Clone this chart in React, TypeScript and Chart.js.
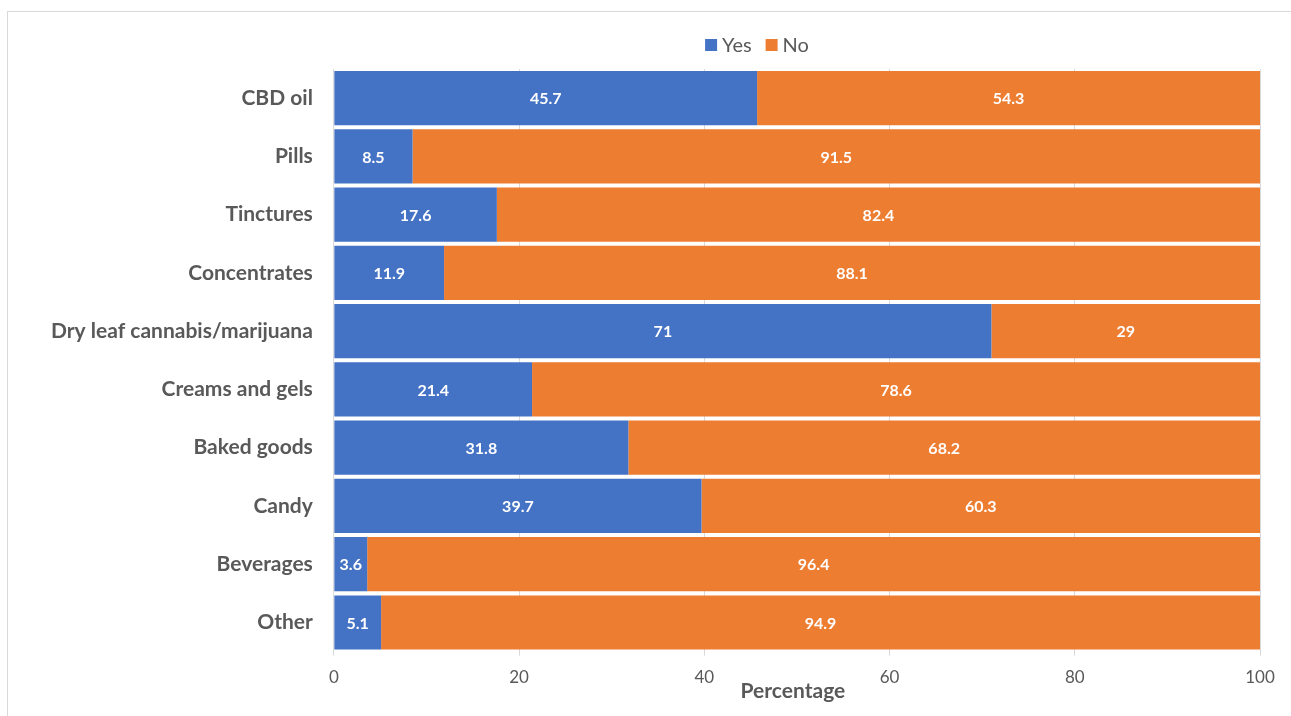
import React, { useEffect, useRef } from "react";
import { Chart, registerables } from "chart.js";

Chart.register(...registerables);

const categories = [
  "CBD oil",
  "Pills",
  "Tinctures",
  "Concentrates",
  "Dry leaf cannabis/marijuana",
  "Creams and gels",
  "Baked goods",
  "Candy",
  "Beverages",
  "Other",
];
const yesValues = [45.7, 8.5, 17.6, 11.9, 71, 21.4, 31.8, 39.7, 3.6, 5.1];
const noValues = [54.3, 91.5, 82.4, 88.1, 29, 78.6, 68.2, 60.3, 96.4, 94.9];
const seriesNames = ["Yes", "No"];
const seriesColors = ["#4472C4", "#ED7D31"];
const xTicks = [0, 20, 40, 60, 80, 100];
const xTitle = "Percentage";

const FONT = "Lato, 'Open Sans', sans-serif";
const TEXT = "#595959";

const dataLabels = {
  id: "dataLabels",
  afterDatasetsDraw(chart: any) {
    const ctx = chart.ctx;
    ctx.save();
    ctx.font = `bold 16px ${FONT}`;
    ctx.fillStyle = "#ffffff";
    ctx.textAlign = "center";
    ctx.textBaseline = "middle";
    chart.data.datasets.forEach((ds: any, di: number) => {
      const meta = chart.getDatasetMeta(di);
      meta.data.forEach((bar: any, i: number) => {
        const p = bar.getProps(["x", "y", "base"], true);
        const cx = (p.x + p.base) / 2;
        ctx.fillText(String(ds.data[i]), cx, p.y + 1);
      });
    });
    ctx.restore();
  },
};

const customLegendAndTitle = {
  id: "customLegendAndTitle",
  afterDraw(chart: any) {
    const ctx = chart.ctx;
    const area = chart.chartArea;
    ctx.save();
    // legend
    ctx.font = `20px ${FONT}`;
    ctx.textBaseline = "middle";
    ctx.textAlign = "left";
    const box = 12;
    const gapBoxText = 5;
    const gapItems = 14;
    const widths = seriesNames.map((n) => box + gapBoxText + ctx.measureText(n).width);
    const total = widths.reduce((a, b) => a + b, 0) + gapItems * (seriesNames.length - 1);
    let x = 757 - total / 2;
    const y = 45;
    seriesNames.forEach((n, i) => {
      ctx.fillStyle = seriesColors[i];
      ctx.fillRect(x, y - box / 2, box, box);
      ctx.fillStyle = TEXT;
      ctx.fillText(n, x + box + gapBoxText, y + 1);
      x += widths[i] + gapItems;
    });
    // x-axis title
    ctx.font = `bold 21px ${FONT}`;
    ctx.textAlign = "center";
    ctx.fillStyle = TEXT;
    ctx.fillText(xTitle, (area.left + area.right) / 2 - 4, area.bottom + 40);
    ctx.restore();
  },
};

export default function App() {
  const ref = useRef<HTMLCanvasElement>(null);
  useEffect(() => {
    if (!ref.current) return;
    const chart = new Chart(ref.current, {
      type: "bar",
      data: {
        labels: categories,
        datasets: [
          {
            label: seriesNames[0],
            data: yesValues,
            backgroundColor: seriesColors[0],
            barPercentage: 0.93,
            categoryPercentage: 1,
          },
          {
            label: seriesNames[1],
            data: noValues,
            backgroundColor: seriesColors[1],
            barPercentage: 0.93,
            categoryPercentage: 1,
          },
        ],
      },
      options: {
        indexAxis: "y",
        responsive: false,
        animation: false,
        layout: { padding: { top: 69, right: 31, bottom: 16, left: 38 } },
        plugins: {
          legend: { display: false },
          tooltip: { enabled: false },
        },
        scales: {
          x: {
            stacked: true,
            min: 0,
            max: 100,
            afterBuildTicks(scale: any) {
              scale.ticks = xTicks.map((v) => ({ value: v }));
            },
            grid: { color: "#d9d9d9", tickLength: 4, drawTicks: true },
            border: { display: false },
            ticks: { color: TEXT, font: { family: FONT, size: 17 }, padding: 12 },
            title: { display: false },
          },
          y: {
            stacked: true,
            grid: { display: false },
            border: { display: true, color: "#d9d9d9" },
            ticks: {
              color: TEXT,
              font: { family: FONT, size: 21, weight: "bold" },
              padding: 13,
            },
          },
        },
      },
      plugins: [dataLabels, customLegendAndTitle],
    });
    return () => chart.destroy();
  }, []);
  return (
    <div style={{ position: "fixed", left: 0, top: 0, width: 1291, height: 716, background: "#fff", overflow: "hidden" }}>
      <div
        style={{
          position: "absolute",
          left: 7,
          top: 11,
          width: 1400,
          height: 800,
          border: "1px solid #d9d9d9",
          boxSizing: "border-box",
        }}
      />
      <canvas ref={ref} width={1291} height={716} style={{ position: "absolute", left: 0, top: 0 }} />
    </div>
  );
}
